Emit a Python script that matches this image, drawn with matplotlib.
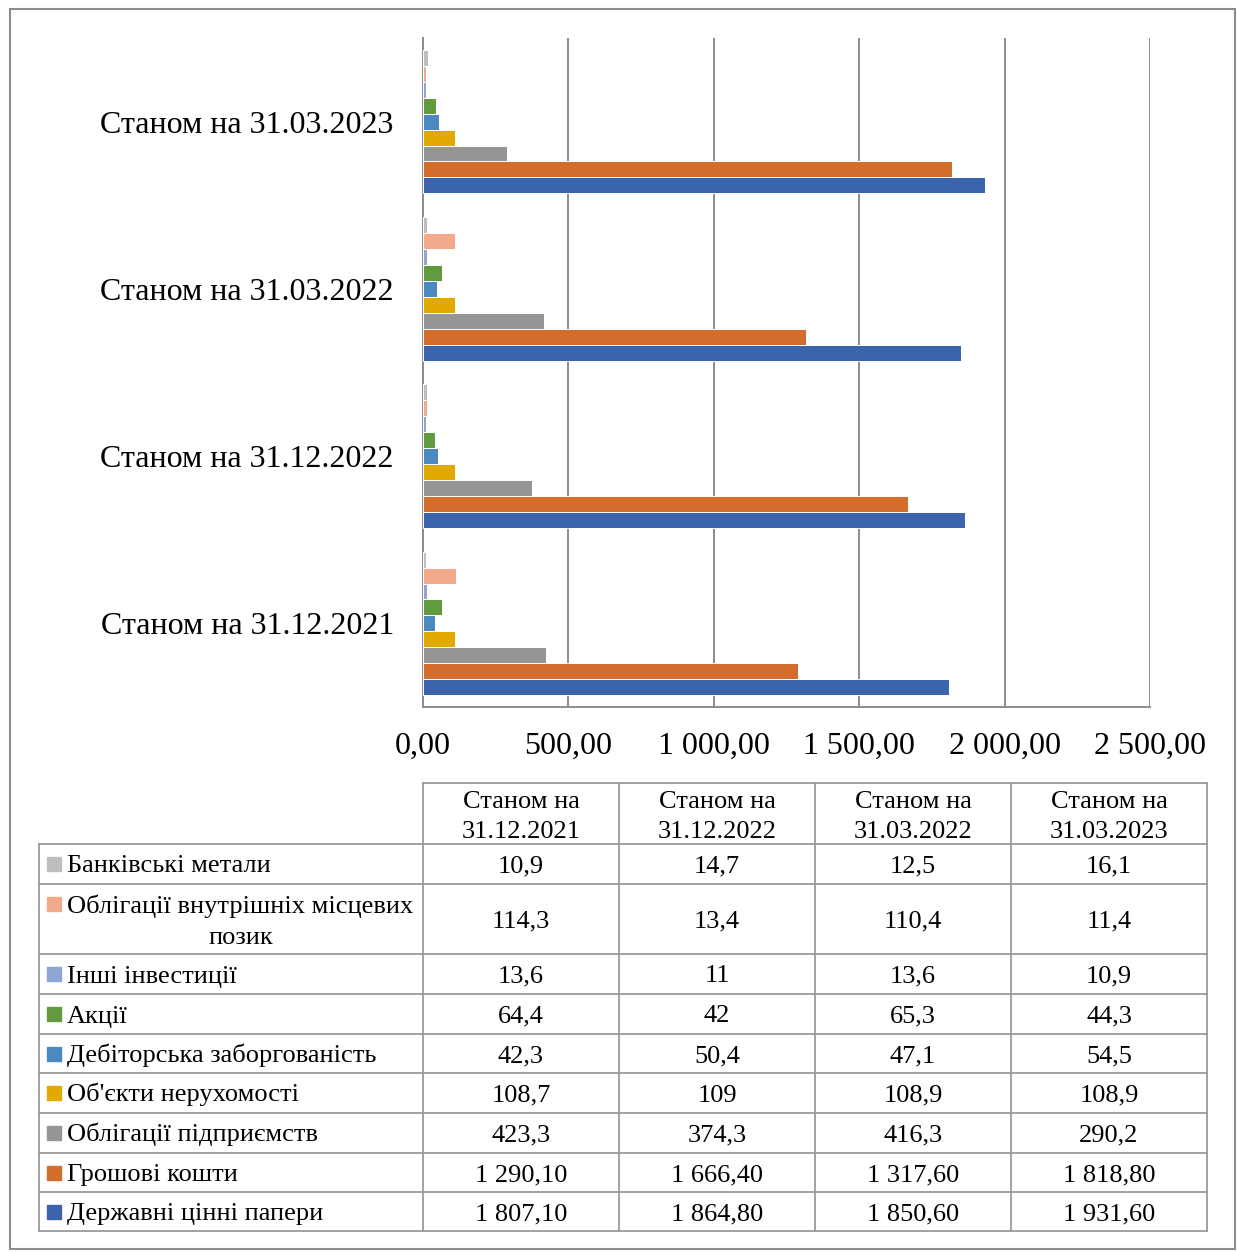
import matplotlib
matplotlib.use("Agg")
import matplotlib.pyplot as plt
from matplotlib.patches import Rectangle
from matplotlib.lines import Line2D
from matplotlib.ticker import FuncFormatter
import numpy as np

plt.rcParams['font.family'] = ['Liberation Serif', 'DejaVu Serif']

# Reporting dates (columns of the table, bottom-to-top in the bar chart)
dates = ["Станом на 31.12.2021", "Станом на 31.12.2022",
         "Станом на 31.03.2022", "Станом на 31.03.2023"]

# Asset classes, listed from the first table row to the last
series_names = [
    "Банківські метали",
    "Облігації внутрішніх місцевих позик",
    "Інші інвестиції",
    "Акції",
    "Дебіторська заборгованість",
    "Об'єкти нерухомості",
    "Облігації підприємств",
    "Грошові кошти",
    "Державні цінні папери",
]

bank_metals = [10.9, 14.7, 12.5, 16.1]
local_bonds = [114.3, 13.4, 110.4, 11.4]
other_investments = [13.6, 11, 13.6, 10.9]
shares = [64.4, 42, 65.3, 44.3]
receivables = [42.3, 50.4, 47.1, 54.5]
real_estate = [108.7, 109, 108.9, 108.9]
corporate_bonds = [423.3, 374.3, 416.3, 290.2]
cash = [1290.10, 1666.40, 1317.60, 1818.80]
gov_securities = [1807.10, 1864.80, 1850.60, 1931.60]

series_values = [bank_metals, local_bonds, other_investments, shares,
                 receivables, real_estate, corporate_bonds, cash,
                 gov_securities]

series_colors = ["#BEBEBE", "#F3A98B", "#8FA5D8", "#629A3F", "#4B89C0",
                 "#E2AA00", "#959595", "#D36D2B", "#3C64AD"]

x_ticks = [0, 500, 1000, 1500, 2000, 2500]

W, H = 1237, 1252
fig = plt.figure(figsize=(W / 100, H / 100), dpi=100)


def fx(px):
    return px / W


def fy(py):
    return 1 - py / H


# ---- bar chart ----
ax = fig.add_axes([fx(423), fy(707), fx(1150) - fx(423), fy(38) - fy(707)])
grid_col = "#8C8C8C"
n_series = len(series_names)
group = 0.857
h = group / n_series
cats = np.arange(len(dates))
# bottom bar of each group is the last series (government securities)
for k, (vals, col) in enumerate(zip(series_values, series_colors)):
    pos_from_bottom = n_series - 1 - k
    offs = (pos_from_bottom - (n_series - 1) / 2) * h
    ax.barh(cats + offs, vals, height=h, color=col, edgecolor="white",
            linewidth=0.7, zorder=3)

ax.set_xlim(0, 2500)
ax.set_ylim(-0.5, len(dates) - 0.5)
ax.set_xticks(x_ticks)
ax.xaxis.set_major_formatter(FuncFormatter(
    lambda v, p: f"{v:,.2f}".replace(",", " ").replace(".", ",")))
ax.set_yticks(cats)
ax.set_yticklabels(dates)
ax.tick_params(axis="y", length=0, pad=21, labelsize=23)
ax.tick_params(axis="x", length=0, pad=18, labelsize=23)
ax.grid(axis="x", color=grid_col, linewidth=1.4, zorder=0)
for s in ["top", "right"]:
    ax.spines[s].set_visible(False)
for s in ["left", "bottom"]:
    ax.spines[s].set_color(grid_col)
    ax.spines[s].set_linewidth(1.4)

# ---- data table ----
tax = fig.add_axes([0, 0, 1, 1])
tax.set_xlim(0, W)
tax.set_ylim(H, 0)
tax.axis("off")

line_col = "#9A9A9A"
lw = 1.3
col_x = [39, 423, 619, 815, 1011, 1207]
head_top, head_bot = 783, 844
row_edges = [844, 884, 954, 994, 1034, 1073, 1113, 1153, 1192, 1231]
fs = 19
base_off = 8.5  # baseline shift below the visual centre of a line


def hline(y, x0, x1):
    tax.add_line(Line2D([x0, x1], [y, y], color=line_col, lw=lw))


def vline(x, y0, y1):
    tax.add_line(Line2D([x, x], [y0, y1], color=line_col, lw=lw))


def put(x, y, s, ha):
    tax.text(x, y + base_off, s, ha=ha, va="baseline", fontsize=fs)


hline(head_top, col_x[1], col_x[-1])
for y in row_edges:
    hline(y, col_x[0], col_x[-1])
vline(col_x[0], row_edges[0], row_edges[-1])
for x in col_x[1:]:
    vline(x, head_top, row_edges[-1])

# header
for j, d in enumerate(dates):
    cx = (col_x[j + 1] + col_x[j + 2]) / 2
    first, second = d.rsplit(" ", 1)
    put(cx, 799, first, "center")
    put(cx, 829, second, "center")


def fmt_value(v):
    if v >= 1000:
        return f"{v:,.2f}".replace(",", " ").replace(".", ",")
    return f"{v:g}".replace(".", ",")


for i, (name, vals, col) in enumerate(zip(series_names, series_values,
                                          series_colors)):
    y0, y1 = row_edges[i], row_edges[i + 1]
    cy = (y0 + y1) / 2
    if name == "Облігації внутрішніх місцевих позик":
        ly = y0 + 20
        tax.add_patch(Rectangle((47, ly - 7), 14, 14, color=col))
        put(67, ly, "Облігації внутрішніх місцевих", "left")
        put(241, ly + 32, "позик", "center")
    else:
        tax.add_patch(Rectangle((47, cy - 7), 14, 14, color=col))
        put(67, cy, name, "left")
    for j, v in enumerate(vals):
        cx = (col_x[j + 1] + col_x[j + 2]) / 2
        put(cx, cy, fmt_value(v), "center")

# outer frame
tax.add_patch(Rectangle((10, 9), 1225, 1240, fill=False, edgecolor="#8C8C8C",
                        lw=1.5))

fig.savefig("out.png", dpi=100, facecolor="white")
